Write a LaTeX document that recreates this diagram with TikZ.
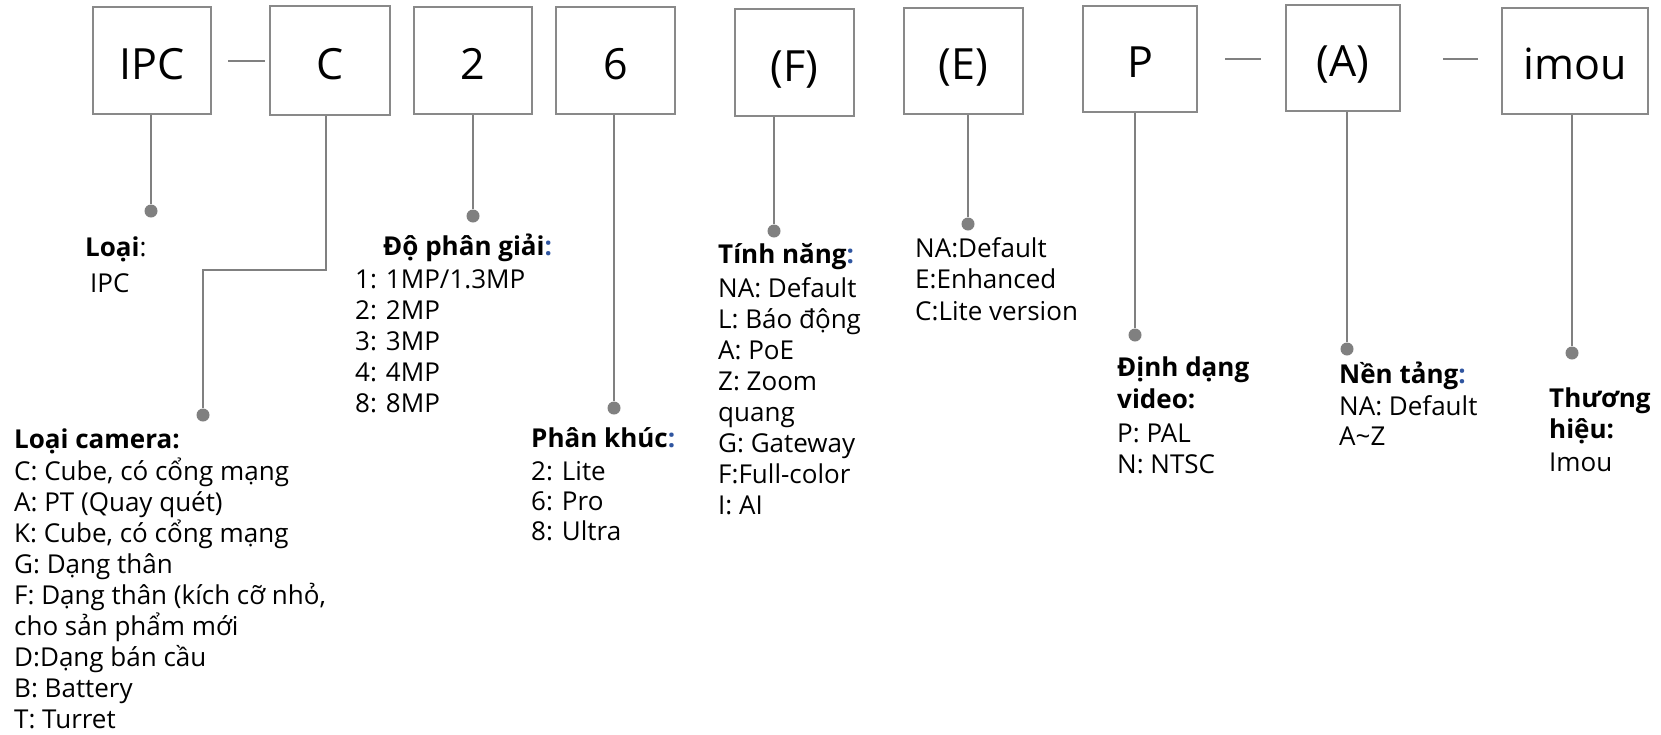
\documentclass[tikz,border=0pt]{standalone}
\usepackage{fontspec}
\setmainfont{Open Sans}
\definecolor{lnc}{RGB}{128,128,128}
\definecolor{bxc}{RGB}{137,137,137}
\definecolor{blc}{RGB}{47,85,160}
\newcommand\mylines[2]{\vtop{\baselineskip=#1\lineskiplimit=-100pt\lineskip=0pt #2}}
\newcommand\bc{{\color{blc}:}}
\begin{document}
\begin{tikzpicture}[x=1pt,y=-1pt,
  codebox/.style={draw=bxc, line width=1.8pt, inner sep=0pt, text height=37pt, text depth=0pt,
    font=\fontsize{43}{50}\selectfont},
  conn/.style={draw=lnc, line width=1.8pt},
  dashln/.style={draw=lnc, line width=1.5pt},
  dotn/.style={circle, fill=lnc, inner sep=0pt, minimum size=13pt},
  txt/.style={anchor=base west, inner sep=0pt, font=\fontsize{26}{31}\selectfont},
  ttl/.style={anchor=base west, inner sep=0pt, font=\fontsize{26}{31}\selectfont\bfseries}]
\useasboundingbox[fill=white] (0,0) rectangle (1661,734);

% code boxes
\node[codebox, minimum width=118pt, minimum height=107pt] (bipc) at (152,60.5) {IPC};
\node[codebox, minimum width=120pt, minimum height=109pt] (bc) at (330,60.5) {C};
\node[codebox, minimum width=118pt, minimum height=107pt] (b2) at (473,60.5) {2};
\node[codebox, minimum width=119pt, minimum height=107pt] (b6) at (615.5,60.5) {6};
\node[codebox, minimum width=119pt, minimum height=107pt] (bf) at (794.5,62.5) {(F)};
\node[codebox, minimum width=119pt, minimum height=106pt] (be) at (963.5,61) {(E)};
\node[codebox, minimum width=114pt, minimum height=106pt] (bp) at (1140,59) {P};
\node[codebox, minimum width=114pt, minimum height=106pt] (ba) at (1343,58) {(A)};
\node[codebox, minimum width=146pt, minimum height=106pt] (bimou) at (1575,61) {imou};

% dashes between boxes
\coordinate (da1) at (228,61); \coordinate (da2) at (265,61);
\coordinate (db1) at (1225,59); \coordinate (db2) at (1261,59);
\coordinate (dc1) at (1443,59); \coordinate (dc2) at (1478,59);
\draw[dashln] (da1) -- (da2);
\draw[dashln] (db1) -- (db2);
\draw[dashln] (dc1) -- (dc2);

% dots
\node[dotn] (d1) at (151,211) {};
\node[dotn] (d2) at (203,415) {};
\node[dotn] (d3) at (473,216) {};
\node[dotn] (d4) at (614,408) {};
\node[dotn] (d5) at (774,231) {};
\node[dotn] (d6) at (968,224) {};
\node[dotn] (d7) at (1135,335) {};
\node[dotn] (d8) at (1347,349) {};
\node[dotn] (d9) at (1572,353) {};

% connectors
\coordinate (c1) at (326,270);
\coordinate (c2) at (203,270);
\draw[conn] (d1 |- bipc.south) -- (d1);
\draw[conn] (c1 |- bc.south) -- (c1) -- (c2) -- (d2);
\draw[conn] (d3 |- b2.south) -- (d3);
\draw[conn] (d4 |- b6.south) -- (d4);
\draw[conn] (d5 |- bf.south) -- (d5);
\draw[conn] (d6 |- be.south) -- (d6);
\draw[conn] (d7 |- bp.south) -- (d7);
\draw[conn] (d8 |- ba.south) -- (d8);
\draw[conn] (d9 |- bimou.south) -- (d9);

% texts
\node[ttl] (t1) at (85,256) {Loại\mdseries:};
\node[txt] (l1) at (90,292) {IPC};

\node[ttl] (t2) at (14,448) {Loại camera:};
\node[txt] (l2) at (14,480) {\mylines{31pt}{%
  \hbox{C: Cube, có cổng mạng}\hbox{A: PT (Quay quét)}\hbox{K: Cube, có cổng mạng}%
  \hbox{G: Dạng thân}\hbox{F: Dạng thân (kích cỡ nhỏ,}\hbox{cho sản phẩm mới}%
  \hbox{D:Dạng bán cầu}\hbox{B: Battery}\hbox{T: Turret}}};

\node[ttl] (t3) at (383,255) {Độ phân giải\bc};
\node[txt] (l3) at (355,288) {\mylines{31pt}{%
  \hbox{1: 1MP/1.3MP}\hbox{2: 2MP}\hbox{3: 3MP}\hbox{4: 4MP}\hbox{8: 8MP}}};

\node[ttl] (t4) at (531,447) {Phân khúc\bc};
\node[txt] (l4) at (531,480) {\mylines{30pt}{%
  \hbox{2: Lite}\hbox{6: Pro}\hbox{8: Ultra}}};

\node[ttl] (t5) at (718,263) {Tính năng\bc};
\node[txt] (l5) at (718,297) {\mylines{31pt}{%
  \hbox{NA: Default}\hbox{L: Báo động}\hbox{A: PoE}\hbox{Z: Zoom}\hbox{quang}%
  \hbox{G: Gateway}\hbox{F:Full-color}\hbox{I: AI}}};

\node[txt] (l6) at (915,257) {\mylines{31.5pt}{%
  \hbox{NA:Default}\hbox{E:Enhanced}\hbox{C:Lite version}}};

\node[ttl] (t7) at (1117,376) {\mylines{32pt}{\hbox{Định dạng}\hbox{video:}}};
\node[txt] (l7) at (1117,442) {\mylines{31pt}{\hbox{P: PAL}\hbox{N: NTSC}}};

\node[ttl] (t8) at (1339,383) {Nền tảng\bc};
\node[txt] (l8) at (1339,415) {\mylines{30pt}{\hbox{NA: Default}\hbox{A\char"7E Z}}};

\node[ttl] (t9) at (1549,407) {\mylines{31pt}{\hbox{Thương}\hbox{hiệu:}}};
\node[txt] (l9) at (1549,471) {Imou};
\end{tikzpicture}
\end{document}
